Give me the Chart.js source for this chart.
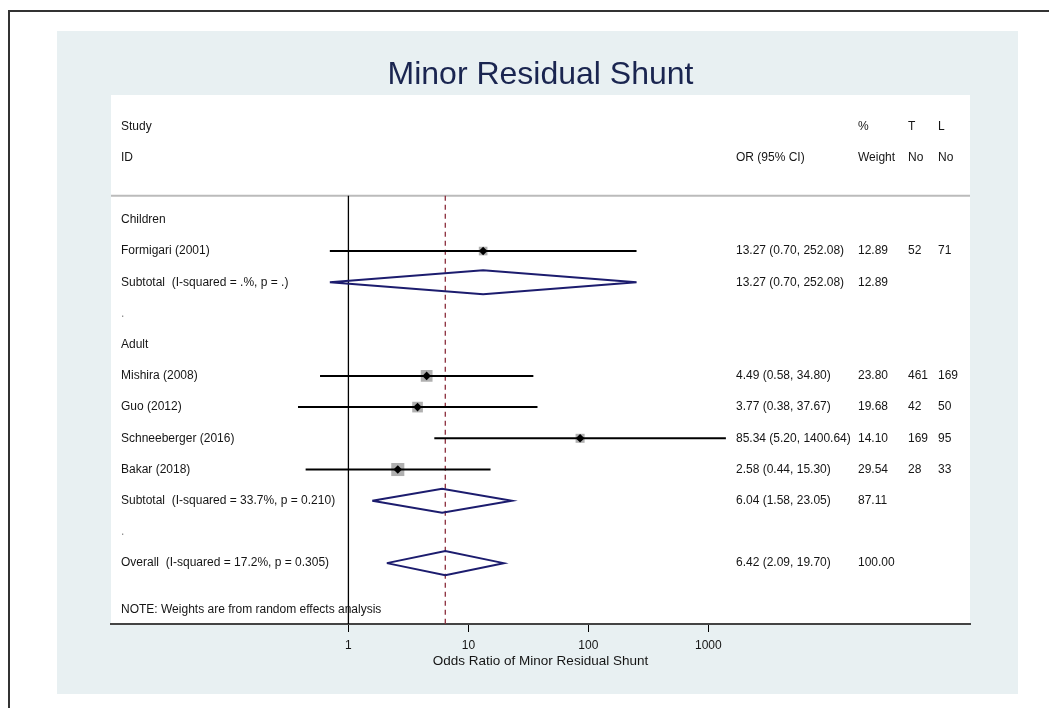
<!DOCTYPE html>
<html>
<head>
    <title>Minor Residual Shunt</title>
    <style>
        body { margin: 0; background: #fff; }
        #forest { display: block; }
    </style>
</head>
<body>
    <canvas id="forest" width="1049" height="708"></canvas>

    <script src="https://cdn.jsdelivr.net/npm/chart.js"></script>
    <script>
        // Rows are counted from "Children" (row 0) downwards
        const rowLabels = [
            'Children',
            'Formigari (2001)',
            'Subtotal  (I-squared = .%, p = .)',
            '.',
            'Adult',
            'Mishira (2008)',
            'Guo (2012)',
            'Schneeberger (2016)',
            'Bakar (2018)',
            'Subtotal  (I-squared = 33.7%, p = 0.210)',
            '.',
            'Overall  (I-squared = 17.2%, p = 0.305)'
        ];

        // Single studies
        const studyRows = [1, 5, 6, 7, 8];
        const studyOR = [13.27, 4.49, 3.77, 85.34, 2.58];
        const studyLow = [0.70, 0.58, 0.38, 5.20, 0.44];
        const studyHigh = [252.08, 34.80, 37.67, 1400.64, 15.30];
        const studyWeight = [12.89, 23.80, 19.68, 14.10, 29.54];
        const studyT = [52, 461, 42, 169, 28];
        const studyL = [71, 169, 50, 95, 33];

        // Subtotals and overall (diamonds)
        const pooledRows = [2, 9, 11];
        const pooledOR = [13.27, 6.04, 6.42];
        const pooledLow = [0.70, 1.58, 2.09];
        const pooledHigh = [252.08, 23.05, 19.70];
        const pooledWeight = [12.89, 87.11, 100.00];

        const xTicks = [1, 10, 100, 1000];
        const noteText = 'NOTE: Weights are from random effects analysis';

        const FONT = '"Liberation Sans", Arial, sans-serif';
        const headerLine = -0.77;   // grey line under the column headers
        const yMin = -4, yMax = 12.95;
        const diamondHalf = 0.385;  // half height of pooled diamonds, in rows

        Chart.defaults.font.family = FONT;

        const datasets = [];

        // line of no effect and overall estimate
        datasets.push({
            data: [{ x: 1, y: headerLine }, { x: 1, y: yMax }],
            showLine: true, borderColor: '#000', borderWidth: 1.3,
            pointRadius: 0, order: 6
        });
        datasets.push({
            data: [{ x: pooledOR[2], y: headerLine }, { x: pooledOR[2], y: yMax }],
            showLine: true, borderColor: '#8b2d3c', borderWidth: 1.3,
            borderDash: [5, 4], pointRadius: 0, order: 6
        });

        // grey weight boxes
        datasets.push({
            data: studyOR.map((v, i) => ({ x: v, y: studyRows[i] })),
            pointStyle: 'rect',
            pointRadius: studyWeight.map(w => 1.7 * Math.sqrt(w)),
            backgroundColor: '#b0b0b0', borderWidth: 0, order: 4
        });

        // confidence intervals
        studyOR.forEach((v, i) => {
            datasets.push({
                data: [{ x: studyLow[i], y: studyRows[i] }, { x: studyHigh[i], y: studyRows[i] }],
                showLine: true, borderColor: '#000', borderWidth: 2,
                pointRadius: 0, order: 3
            });
        });

        // point estimates
        datasets.push({
            data: studyOR.map((v, i) => ({ x: v, y: studyRows[i] })),
            pointStyle: 'rectRot', pointRadius: 4.3,
            backgroundColor: '#000', borderWidth: 0, order: 1
        });

        // pooled diamonds
        pooledOR.forEach((v, i) => {
            const r = pooledRows[i];
            datasets.push({
                data: [
                    { x: pooledLow[i], y: r },
                    { x: v, y: r - diamondHalf },
                    { x: pooledHigh[i], y: r },
                    { x: v, y: r + diamondHalf },
                    { x: pooledLow[i], y: r }
                ],
                showLine: true, borderColor: '#1c1c6e', borderWidth: 2,
                pointRadius: 0, fill: false, order: 2
            });
        });

        // background, frame and header rule
        const backdrop = {
            id: 'backdrop',
            beforeDraw(chart) {
                const ctx = chart.ctx;
                const a = chart.chartArea;
                ctx.save();
                ctx.fillStyle = '#fff';
                ctx.fillRect(0, 0, chart.width, chart.height);
                ctx.strokeStyle = '#333';
                ctx.lineWidth = 2;
                ctx.strokeRect(9, 11, chart.width + 20, chart.height + 20);
                ctx.fillStyle = '#e8f0f2';
                ctx.fillRect(57, 31, 961, 663);
                ctx.fillStyle = '#fff';
                ctx.fillRect(a.left, a.top, a.right - a.left, a.bottom - a.top);
                const y = chart.scales.y.getPixelForValue(headerLine);
                ctx.strokeStyle = '#bbb';
                ctx.lineWidth = 2;
                ctx.beginPath();
                ctx.moveTo(a.left, y);
                ctx.lineTo(a.right, y);
                ctx.stroke();
                ctx.restore();
            }
        };

        // table text beside the plot
        const tableText = {
            id: 'tableText',
            afterDatasetsDraw(chart) {
                const ctx = chart.ctx;
                const ys = chart.scales.y;
                const colStudy = 121, colOR = 736, colW = 858, colT = 908, colL = 938;
                const put = (txt, x, row, color) => {
                    ctx.fillStyle = color || '#151515';
                    ctx.fillText(txt, x, ys.getPixelForValue(row));
                };
                ctx.save();
                ctx.font = '12px ' + FONT;
                ctx.textBaseline = 'middle';
                ctx.textAlign = 'left';

                put('Study', colStudy, -3);
                put('ID', colStudy, -2);
                put('OR (95% CI)', colOR, -2);
                put('%', colW, -3);
                put('Weight', colW, -2);
                put('T', colT, -3);
                put('No', colT, -2);
                put('L', colL, -3);
                put('No', colL, -2);

                rowLabels.forEach((lab, r) => {
                    put(lab, colStudy, r, lab === '.' ? '#888' : null);
                });

                const ci = (v, lo, hi) => `${v.toFixed(2)} (${lo.toFixed(2)}, ${hi.toFixed(2)})`;
                studyOR.forEach((v, i) => {
                    const r = studyRows[i];
                    put(ci(v, studyLow[i], studyHigh[i]), colOR, r);
                    put(studyWeight[i].toFixed(2), colW, r);
                    put(String(studyT[i]), colT, r);
                    put(String(studyL[i]), colL, r);
                });
                pooledOR.forEach((v, i) => {
                    const r = pooledRows[i];
                    put(ci(v, pooledLow[i], pooledHigh[i]), colOR, r);
                    put(pooledWeight[i].toFixed(2), colW, r);
                });

                put(noteText, colStudy, 12.5);
                ctx.restore();
            }
        };

        new Chart(document.getElementById('forest'), {
            type: 'scatter',
            data: { datasets: datasets },
            plugins: [backdrop, tableText],
            options: {
                responsive: false,
                animation: false,
                events: [],
                layout: { padding: { top: 30, left: 111, right: 79, bottom: 0 } },
                plugins: {
                    legend: { display: false },
                    tooltip: { enabled: false },
                    title: {
                        display: true,
                        text: 'Minor Residual Shunt',
                        color: '#1a2550',
                        font: { size: 32, weight: 'normal' },
                        padding: { top: 26, bottom: 0.6 }
                    }
                },
                scales: {
                    x: {
                        type: 'logarithmic',
                        min: 0.0105,
                        max: 151700,
                        afterBuildTicks: s => { s.ticks = xTicks.map(v => ({ value: v })); },
                        afterFit: s => { s.height = 84; },
                        grid: { drawOnChartArea: false, drawTicks: true, tickLength: 8, color: '#000', lineWidth: 1 },
                        border: { display: true, color: '#444', width: 2 },
                        ticks: {
                            color: '#151515', font: { size: 12 }, padding: 6,
                            autoSkip: false, maxRotation: 0,
                            callback: v => String(v)
                        },
                        title: {
                            display: true,
                            text: 'Odds Ratio of Minor Residual Shunt',
                            color: '#151515',
                            font: { size: 13.5 },
                            padding: { top: 0, bottom: 39 }
                        }
                    },
                    y: {
                        type: 'linear',
                        min: yMin,
                        max: yMax,
                        reverse: true,
                        display: false
                    }
                }
            }
        });
    </script>
</body>
</html>
